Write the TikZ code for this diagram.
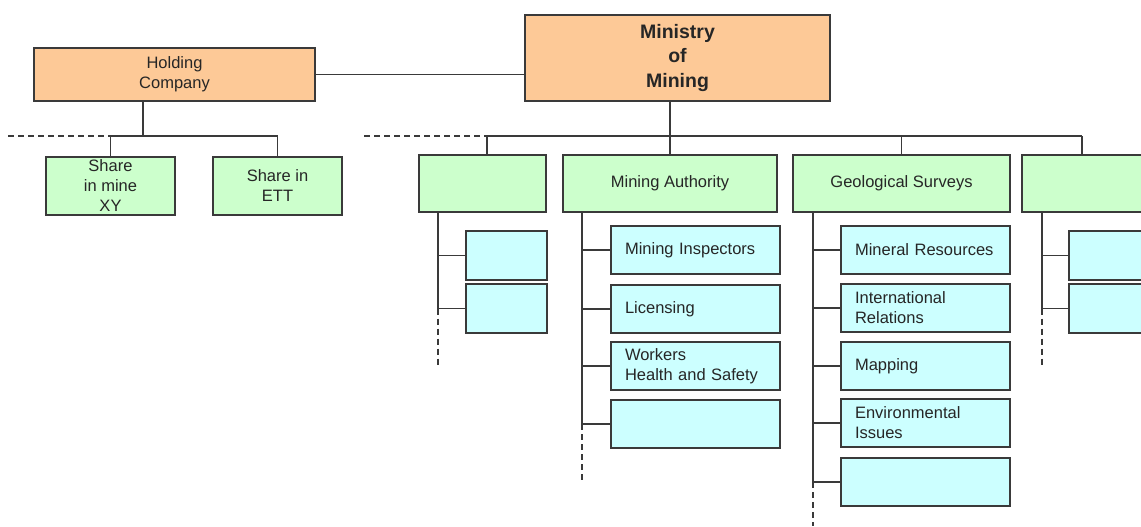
\documentclass[tikz,border=0pt]{standalone}
\usepackage{fontspec}
\setmainfont{Liberation Sans}
\definecolor{boxorange}{HTML}{FDC997}
\definecolor{boxgreen}{HTML}{CCFFCC}
\definecolor{boxcyan}{HTML}{CCFFFF}
\definecolor{edge}{HTML}{3A3A3A}
\tikzset{
  base/.style={draw=edge, line width=1.5pt, inner sep=0pt, outer sep=0pt, anchor=north west, font=\fontsize{16.5}{20}\selectfont, text=black!85},
  topbox/.style={base, fill=boxorange, align=center},
  unitbox/.style={base, fill=boxgreen, align=center},
  subbox/.style={base, fill=boxcyan, align=left, inner xsep=14pt},
  link/.style={draw=edge, line width=1.5pt},
  open/.style={draw=edge, line width=1.5pt, dash pattern=on 6pt off 4pt},
}
\begin{document}
\begin{tikzpicture}[x=1pt,y=-1pt]
\useasboundingbox (0,0) rectangle (1141,527);
\clip (0,0) rectangle (1141,527);
% top level
\node[topbox, minimum width=281pt, minimum height=53pt] (hold) at (34,48) {Holding\\Company};
\node[topbox, minimum width=305pt, minimum height=86pt, font=\fontsize{19.5}{24.5}\selectfont\bfseries] (min) at (525,15) {Ministry\\of\\Mining};
\draw[link] (hold.east) -- (hold.east -| min.west);
% holding children
\node[unitbox, minimum width=129pt, minimum height=58pt] (sxy) at (46,157) {Share\\in mine\\XY};
\node[unitbox, minimum width=129pt, minimum height=58pt] (sett) at (213,157) {Share in\\ETT};
\coordinate (hbus) at (143,136);
\coordinate (hdash) at (8,136);
\draw[link] (hold.south -| hbus) -- (hbus);
\draw[link] (sxy.north |- hbus) -- (sett.north |- hbus);
\draw[link] (sxy.north) -- (sxy.north |- hbus);
\draw[link] (sett.north) -- (sett.north |- hbus);
\draw[open] (hdash) -- (sxy.north |- hbus);
% ministry children
\node[unitbox, minimum width=127pt, minimum height=57pt] (u1) at (419,155) {};
\node[unitbox, minimum width=214pt, minimum height=57pt] (ma) at (563,155) {Mining Authority};
\node[unitbox, minimum width=217pt, minimum height=57pt] (gs) at (793,155) {Geological Surveys};
\node[unitbox, minimum width=140pt, minimum height=57pt] (u4) at (1022,155) {};
\coordinate (mbus) at (668,136);
\coordinate (mdash) at (364,136);
\draw[link] (ma.north) -- (ma.north |- min.south);
\coordinate (u1top) at (487,155);
\coordinate (u4top) at (1082,155);
\draw[link] (u1top |- mbus) -- (u4top |- mbus);
\draw[link] (u1top) -- (u1top |- mbus);
\draw[link] (gs.north) -- (gs.north |- mbus);
\draw[link] (u4top) -- (u4top |- mbus);
\draw[open] (mdash) -- (u1top |- mbus);
% column 1
\node[subbox, text width=53pt, minimum height=49pt] (c1a) at (466,231) {};
\node[subbox, text width=53pt, minimum height=49pt] (c1b) at (466,284) {};
\coordinate (c1x) at (438,212);
\coordinate (c1end) at (438,366);
\draw[link] (c1x) -- (c1x |- c1b.west);
\draw[link] (c1a.west) -- (c1a.west -| c1x);
\draw[link] (c1b.west) -- (c1b.west -| c1x);
\draw[open] (c1x |- c1b.west) -- (c1end);
% column 2
\node[subbox, text width=141pt, minimum height=48pt] (ma1) at (611,226) {Mining Inspectors};
\node[subbox, text width=141pt, minimum height=48pt] (ma2) at (611,285) {Licensing};
\node[subbox, text width=141pt, minimum height=48pt] (ma3) at (611,342) {Workers\\Health and Safety};
\node[subbox, text width=141pt, minimum height=48pt] (ma4) at (611,400) {};
\coordinate (c2x) at (582,212);
\coordinate (c2end) at (582,482);
\draw[link] (c2x) -- (c2x |- ma4.west);
\foreach \n in {ma1,ma2,ma3,ma4} \draw[link] (\n.west) -- (\n.west -| c2x);
\draw[open] (c2x |- ma4.west) -- (c2end);
% column 3
\node[subbox, text width=141pt, minimum height=48pt] (gs1) at (841,226) {Mineral Resources};
\node[subbox, text width=141pt, minimum height=48pt] (gs2) at (841,284) {International\\Relations};
\node[subbox, text width=141pt, minimum height=48pt] (gs3) at (841,342) {Mapping};
\node[subbox, text width=141pt, minimum height=48pt] (gs4) at (841,399) {Environmental\\Issues};
\node[subbox, text width=141pt, minimum height=48pt] (gs5) at (841,458) {};
\coordinate (c3x) at (813,212);
\coordinate (c3end) at (813,526);
\draw[link] (c3x) -- (c3x |- gs5.west);
\foreach \n in {gs1,gs2,gs3,gs4,gs5} \draw[link] (\n.west) -- (\n.west -| c3x);
\draw[open] (c3x |- gs5.west) -- (c3end);
% column 4
\node[subbox, text width=70pt, minimum height=49pt] (c4a) at (1069,231) {};
\node[subbox, text width=70pt, minimum height=49pt] (c4b) at (1069,284) {};
\coordinate (c4x) at (1042,212);
\coordinate (c4end) at (1042,367);
\draw[link] (c4x) -- (c4x |- c4b.west);
\draw[link] (c4a.west) -- (c4a.west -| c4x);
\draw[link] (c4b.west) -- (c4b.west -| c4x);
\draw[open] (c4x |- c4b.west) -- (c4end);
\end{tikzpicture}
\end{document}
